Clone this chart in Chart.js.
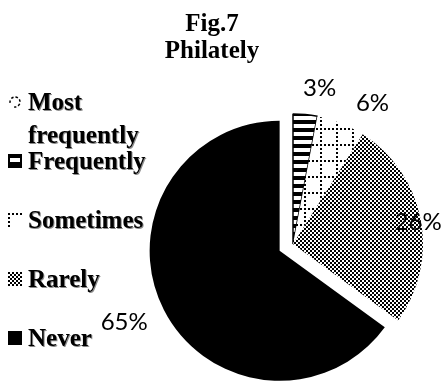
<!DOCTYPE html>
<html>
<head>
<meta charset="utf-8">
<script src="https://cdn.jsdelivr.net/npm/chart.js@4/dist/chart.umd.min.js"></script>
<style>
  html, body { margin: 0; padding: 0; background: #fff; }
</style>
</head>
<body>
<canvas id="fig7" width="441" height="381"></canvas>
<script>
var categories = ['Most frequently', 'Frequently', 'Sometimes', 'Rarely', 'Never'];
var shares = [0, 3, 6, 26, 65];
var titleLines = ['Fig.7', 'Philately'];

// how far each slice is pulled out of the pie, px
var explodeBy = [0, 0, 0, 0, 15];
// where the % label sits: fraction along the arc, distance beyond the rim
var labelSpots = [null, { at: 0.9, gap: 28 }, { at: 0.86, gap: 32 }, { at: 0.51, gap: -3 }, { at: 0.51, gap: 41 }];

var canvas = document.getElementById('fig7');
var ctx = canvas.getContext('2d');

function makePattern(w, h, paint) {
  var c = document.createElement('canvas');
  c.width = w;
  c.height = h;
  var g = c.getContext('2d');
  g.fillStyle = '#fff';
  g.fillRect(0, 0, w, h);
  g.fillStyle = '#000';
  paint(g);
  return ctx.createPattern(c, 'repeat');
}

var stripes = makePattern(8, 8, function (g) { g.fillRect(0, 0, 8, 4); });
var dottedGrid = makePattern(16, 16, function (g) {
  for (var k = 0; k < 16; k += 4) {
    g.fillRect(k, 0, 2, 2);
    g.fillRect(0, k, 2, 2);
  }
});
var checker = makePattern(4, 4, function (g) {
  g.fillRect(0, 0, 2, 2);
  g.fillRect(2, 2, 2, 2);
});
var fills = ['#fff', stripes, dottedGrid, checker, '#000'];

var explodePlugin = {
  id: 'explode',
  afterDatasetUpdate: function (chart, args) {
    var meta = chart.getDatasetMeta(args.index);
    meta.data.forEach(function (arc, i) {
      var d = explodeBy[i] || 0;
      if (!d) return;
      var mid = (arc.startAngle + arc.endAngle) / 2;
      arc.x += Math.cos(mid) * d;
      arc.y += Math.sin(mid) * d;
    });
  }
};

var percentPlugin = {
  id: 'percentLabels',
  afterDatasetsDraw: function (chart) {
    var c = chart.ctx;
    var meta = chart.getDatasetMeta(0);
    c.save();
    c.font = '24px Lato';
    c.fillStyle = '#000';
    c.textAlign = 'center';
    c.textBaseline = 'alphabetic';
    meta.data.forEach(function (arc, i) {
      var spot = labelSpots[i];
      if (!spot || !shares[i]) return;
      var a = arc.startAngle + (arc.endAngle - arc.startAngle) * spot.at;
      var r = arc.outerRadius + spot.gap;
      c.fillText(shares[i] + '%', arc.x + Math.cos(a) * r, arc.y + Math.sin(a) * r + 8);
    });
    c.restore();
  }
};

function drawIcon(c, i, x, y, s) {
  c.save();
  c.translate(x, y);
  if (i === 0) {
    c.strokeStyle = '#000';
    c.lineWidth = 1.5;
    c.setLineDash([2.5, 2]);
    c.beginPath();
    c.arc(s / 2, s / 2, s / 2 - 2, Math.PI * 170 / 180, Math.PI * 100 / 180);
    c.stroke();
  } else {
    c.fillStyle = fills[i];
    c.fillRect(0, 0, s, s);
    if (i === 1) {
      c.strokeStyle = '#000';
      c.lineWidth = 2;
      c.strokeRect(1, 1, s - 2, s - 2);
    }
  }
  c.restore();
}

function wrapWords(c, text, maxWidth) {
  var words = text.split(' ');
  var lines = [];
  var line = '';
  words.forEach(function (w) {
    var test = line ? line + ' ' + w : w;
    if (line && c.measureText(test).width > maxWidth) {
      lines.push(line);
      line = w;
    } else {
      line = test;
    }
  });
  lines.push(line);
  return lines;
}

var sidePlugin = {
  id: 'titleAndLegend',
  afterDraw: function (chart) {
    var c = chart.ctx;
    c.save();
    c.fillStyle = '#000';
    c.textAlign = 'center';
    c.textBaseline = 'alphabetic';
    c.font = 'bold 25px "Liberation Serif"';
    titleLines.forEach(function (t, k) {
      c.fillText(t, 212, 31 + k * 27);
    });

    c.textAlign = 'left';
    categories.forEach(function (name, i) {
      var base = 110 + i * 59;
      drawIcon(c, i, 8, base - 15, 14);
      c.save();
      c.font = 'bold 25px "Liberation Serif"';
      c.shadowColor = 'rgba(0,0,0,0.45)';
      c.shadowOffsetX = 1;
      c.shadowOffsetY = 1;
      c.shadowBlur = 0.5;
      wrapWords(c, name, 125).forEach(function (ln, k) {
        c.fillText(ln, 28, base + k * 33);
      });
      c.restore();
    });
    c.restore();
  }
};

new Chart(ctx, {
  type: 'pie',
  data: {
    labels: categories,
    datasets: [{
      data: shares,
      backgroundColor: fills,
      borderColor: '#000',
      borderWidth: [0, 1.5, 0, 0, 0]
    }]
  },
  options: {
    responsive: false,
    animation: false,
    events: [],
    radius: 130,
    layout: { padding: { left: 155, right: 10, top: 107, bottom: 0 } },
    plugins: {
      legend: { display: false },
      title: { display: false },
      tooltip: { enabled: false }
    }
  },
  plugins: [explodePlugin, percentPlugin, sidePlugin]
});
</script>
</body>
</html>
